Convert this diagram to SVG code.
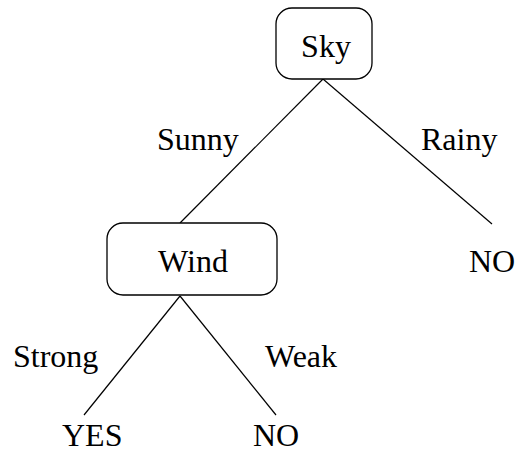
<svg xmlns="http://www.w3.org/2000/svg" width="517" height="454" viewBox="0 0 517 454">
<style>
.box{fill:#fff;stroke:#000;stroke-width:1.3}
.edge{stroke:#000;stroke-width:1.2;fill:none}
text{font-family:"Liberation Serif","Times New Roman",serif;font-size:32px;fill:#000}
</style>
<rect width="517" height="454" fill="#fff"/>
<g id="connectors">
<line class="edge" x1="323" y1="79" x2="180" y2="223"/>
<line class="edge" x1="323" y1="79" x2="492" y2="224"/>
<line class="edge" x1="180" y1="296" x2="84" y2="415"/>
<line class="edge" x1="180" y1="296" x2="276" y2="415"/>
<text x="157" y="150">Sunny</text>
<text x="421" y="150">Rainy</text>
<text x="13" y="367">Strong</text>
<text x="265" y="367">Weak</text>
</g>
<g id="sky">
<rect class="box" x="276" y="8" width="96" height="71" rx="16"/>
<text x="326" y="57" text-anchor="middle">Sky</text>
</g>
<g id="wind">
<rect class="box" x="107" y="223" width="170" height="72" rx="16"/>
<text x="193" y="272" text-anchor="middle">Wind</text>
</g>
<g id="no1">
<text x="469" y="272">NO</text>
</g>
<g id="yes">
<text x="62" y="446">YES</text>
</g>
<g id="no2">
<text x="253" y="446">NO</text>
</g>
</svg>
